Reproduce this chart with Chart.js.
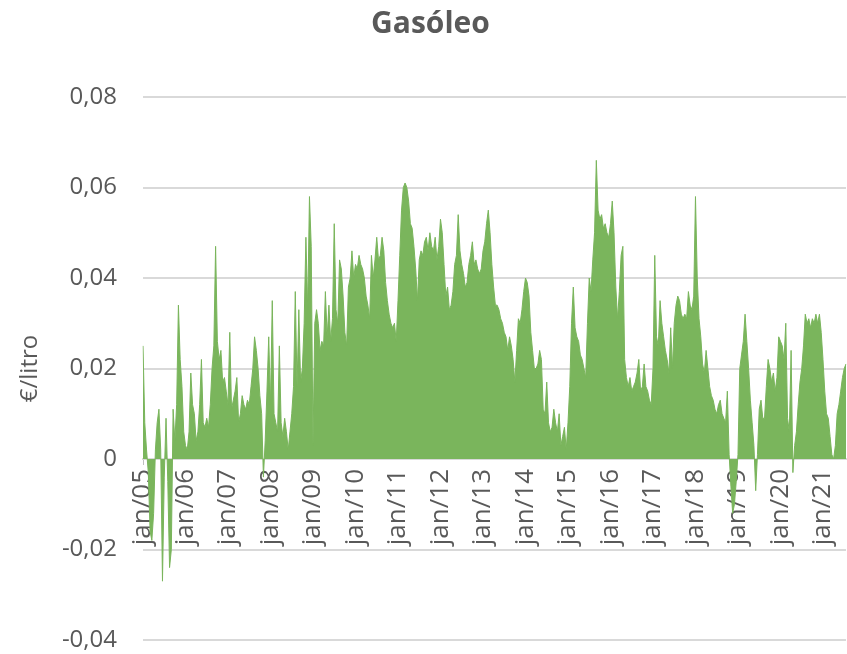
<!DOCTYPE html>
<html>
<head>
<meta charset="utf-8">
<title>Gasóleo</title>
<script src="https://cdn.jsdelivr.net/npm/chart.js@4/dist/chart.umd.min.js"></script>
<style>
  body { margin: 0; background: #fff; }
</style>
</head>
<body>
<canvas id="chart" width="847" height="654"></canvas>
<script>
// two readings per month, jan/05 .. mid 2021 (€/litro)
const years = ['05', '06', '07', '08', '09', '10', '11', '12', '13', '14', '15', '16', '17', '18', '19', '20', '21']

const y2005 = [0.025, 0.008, 0.002, -0.003, -0.016, -0.018, -0.012, 0.002, 0.008, 0.011, 0.002, -0.027, -0.004, 0.009, -0.005, -0.024, -0.02, 0.011, 0.004, 0.012, 0.034, 0.022, 0.016, 0.006]
const y2006 = [0.003, 0.002, 0.006, 0.019, 0.012, 0.01, 0.004, 0.006, 0.012, 0.022, 0.008, 0.007, 0.009, 0.007, 0.012, 0.02, 0.025, 0.047, 0.026, 0.022, 0.024, 0.017, 0.018, 0.015]
const y2007 = [0.012, 0.028, 0.011, 0.013, 0.015, 0.018, 0.008, 0.01, 0.014, 0.012, 0.011, 0.013, 0.012, 0.016, 0.02, 0.027, 0.024, 0.02, 0.014, 0.01, -0.004, 0.004, 0.015, 0.027]
const y2008 = [0.012, 0.035, 0.01, 0.008, 0.006, 0.025, 0.008, 0.005, 0.009, 0.006, 0.002, 0.006, 0.01, 0.016, 0.037, 0.016, 0.033, 0.017, 0.02, 0.03, 0.049, 0.033, 0.058, 0.047]
const y2009 = [0.003, 0.03, 0.033, 0.03, 0.024, 0.026, 0.025, 0.037, 0.027, 0.034, 0.026, 0.031, 0.052, 0.033, 0.03, 0.044, 0.042, 0.036, 0.028, 0.025, 0.038, 0.04, 0.046, 0.04]
const y2010 = [0.043, 0.042, 0.045, 0.043, 0.042, 0.04, 0.036, 0.034, 0.031, 0.045, 0.04, 0.044, 0.049, 0.044, 0.045, 0.049, 0.046, 0.039, 0.035, 0.032, 0.03, 0.029, 0.03, 0.026]
const y2011 = [0.035, 0.045, 0.055, 0.06, 0.061, 0.06, 0.057, 0.052, 0.051, 0.047, 0.042, 0.035, 0.044, 0.046, 0.045, 0.048, 0.049, 0.046, 0.05, 0.047, 0.046, 0.049, 0.044, 0.047]
const y2012 = [0.053, 0.05, 0.043, 0.036, 0.038, 0.033, 0.034, 0.037, 0.043, 0.045, 0.054, 0.046, 0.043, 0.041, 0.038, 0.039, 0.043, 0.045, 0.048, 0.043, 0.044, 0.042, 0.041, 0.042]
const y2013 = [0.046, 0.048, 0.052, 0.055, 0.05, 0.043, 0.038, 0.034, 0.034, 0.033, 0.031, 0.03, 0.028, 0.027, 0.024, 0.027, 0.025, 0.022, 0.017, 0.024, 0.031, 0.03, 0.033, 0.037]
const y2014 = [0.04, 0.039, 0.036, 0.028, 0.024, 0.02, 0.02, 0.021, 0.024, 0.022, 0.011, 0.01, 0.017, 0.008, 0.006, 0.007, 0.011, 0.008, 0.006, 0.01, 0.003, 0.005, 0.007, 0.002]
const y2015 = [0.008, 0.016, 0.03, 0.038, 0.029, 0.027, 0.026, 0.023, 0.022, 0.02, 0.018, 0.03, 0.04, 0.037, 0.044, 0.05, 0.066, 0.055, 0.053, 0.054, 0.051, 0.052, 0.05, 0.049]
const y2016 = [0.052, 0.057, 0.05, 0.038, 0.031, 0.037, 0.045, 0.047, 0.022, 0.018, 0.016, 0.018, 0.015, 0.016, 0.017, 0.019, 0.022, 0.015, 0.016, 0.021, 0.016, 0.015, 0.013, 0.012]
const y2017 = [0.02, 0.045, 0.027, 0.025, 0.035, 0.03, 0.027, 0.024, 0.022, 0.019, 0.029, 0.02, 0.03, 0.034, 0.036, 0.035, 0.032, 0.031, 0.032, 0.031, 0.037, 0.034, 0.033, 0.036]
const y2018 = [0.058, 0.04, 0.031, 0.027, 0.021, 0.019, 0.024, 0.02, 0.016, 0.014, 0.013, 0.011, 0.01, 0.012, 0.013, 0.01, 0.009, 0.008, 0.015, 0.001, -0.006, -0.012, -0.01, -0.005]
const y2019 = [0.001, 0.02, 0.023, 0.026, 0.032, 0.026, 0.02, 0.013, 0.008, 0.003, -0.007, 0.001, 0.011, 0.013, 0.009, 0.009, 0.016, 0.022, 0.02, 0.017, 0.019, 0.015, 0.018, 0.027]
const y2020 = [0.026, 0.025, 0.022, 0.03, 0.009, 0.006, 0.024, -0.003, 0.003, 0.006, 0.012, 0.017, 0.02, 0.025, 0.032, 0.03, 0.031, 0.029, 0.031, 0.03, 0.032, 0.03, 0.032, 0.028]
const y2021 = [0.022, 0.015, 0.01, 0.009, 0.005, 0.001, 0, 0.003, 0.01, 0.012, 0.015, 0.018, 0.02, 0.021]

const yTicks = [-0.04, -0.02, 0, 0.02, 0.04, 0.06, 0.08]

const series = [y2005, y2006, y2007, y2008, y2009, y2010, y2011, y2012, y2013, y2014, y2015, y2016, y2017, y2018, y2019, y2020, y2021]
const values = series.flat()
const labels = []
series.forEach((arr, i) => {
  arr.forEach((v, j) => labels.push(j === 0 ? 'jan/' + years[i] : ''))
})

const green = '#7ab55c'
const grey = '#595959'
const font = 'Open Sans'

new Chart(document.getElementById('chart'), {
  type: 'line',
  data: {
    labels: labels,
    datasets: [{
      data: values,
      fill: 'origin',
      backgroundColor: green,
      borderColor: green,
      borderWidth: 1,
      pointRadius: 0,
      tension: 0
    }]
  },
  options: {
    responsive: false,
    animation: false,
    layout: { padding: { left: 15, right: 1, top: 0, bottom: 14 } },
    plugins: {
      legend: { display: false },
      tooltip: { enabled: false },
      title: {
        display: true,
        text: 'Gasóleo',
        color: grey,
        font: { family: font, size: 30, weight: 'bold' },
        padding: { top: 6, bottom: 55 }
      }
    },
    scales: {
      x: {
        position: { y: 0 },
        afterFit: s => { s.paddingLeft = 0; s.paddingRight = 0 },
        ticks: {
          autoSkip: false,
          minRotation: 90,
          maxRotation: 90,
          padding: 5,
          color: grey,
          font: { family: font, size: 26 },
          callback: (v, i) => labels[i] || null
        },
        grid: {
          drawOnChartArea: false,
          drawTicks: true,
          tickLength: 5,
          tickColor: ctx => labels[ctx.index] ? '#bfbfbf' : 'rgba(0,0,0,0)'
        },
        border: { color: '#d9d9d9', width: 2 }
      },
      y: {
        min: -0.04,
        max: 0.08,
        afterFit: s => { s.width = 128; s.paddingTop = 0; s.paddingBottom = 0 },
        afterBuildTicks: s => { s.ticks = yTicks.map(v => ({ value: v })) },
        ticks: {
          padding: 26,
          color: grey,
          font: { family: font, size: 24 },
          callback: v => v === 0 ? '0' : v.toFixed(2).replace('.', ',')
        },
        grid: { color: '#d9d9d9', lineWidth: 2, drawTicks: false },
        border: { display: false },
        title: {
          display: true,
          text: '€/litro',
          color: grey,
          font: { family: font, size: 24 },
          padding: { top: 1 }
        }
      }
    }
  }
})
</script>
</body>
</html>
